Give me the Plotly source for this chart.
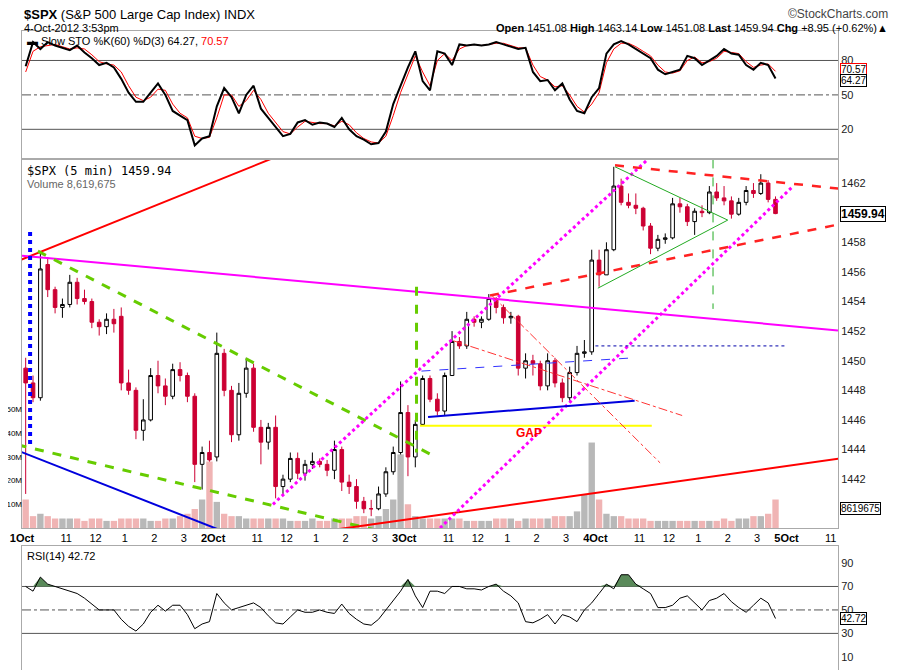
import numpy as np
import plotly.graph_objects as go

# 15-min candles rebuilt from the 5-min chart, 1-Oct .. 4-Oct 2012
opens = [1449.5,1448.5,1447.5,1456.5,1454.8,1453.6,1453.8,1455.3,1454.2,1454.0,1452.6,1452.3,1452.8,1453.0,1448.5,1448.0,1445.3,1446.0,1449.0,1448.3,1447.6,1449.4,1449.0,1447.6,1443.0,1443.8,
         1443.5,1450.5,1448.0,1445.0,1447.8,1449.5,1445.5,1444.5,1445.5,1441.5,1442.0,1443.4,1442.4,1443.0,1443.2,1443.0,1442.6,1444.0,1441.8,1441.5,1440.5,1440.0,1440.0,1441.0,1442.5,1443.8,
         1446.5,1443.5,1445.7,1448.8,1447.4,1446.6,1449.0,1451.3,1451.0,1452.8,1452.6,1452.8,1454.2,1453.6,1452.9,1453.0,1449.5,1450.0,1449.8,1448.3,1450.0,1448.5,1447.5,1449.2,1450.5,1450.6,
         1456.8,1455.8,1457.5,1461.8,1460.7,1460.5,1460.3,1459.1,1457.6,1458.2,1458.3,1460.6,1460.4,1459.4,1460.1,1460.0,1461.4,1461.0,1460.8,1459.9,1460.7,1461.5,1461.3,1462.0,1460.9]
highs = [1450.2,1449.0,1457.3,1457.0,1455.0,1454.2,1455.8,1455.6,1454.8,1454.2,1452.8,1453.2,1453.5,1453.6,1449.4,1448.2,1447.4,1449.5,1450.0,1448.8,1449.8,1449.9,1449.2,1447.8,1444.2,1444.6,
         1451.9,1450.8,1448.3,1448.5,1450.2,1449.8,1446.0,1445.8,1446.3,1442.3,1443.8,1443.8,1443.3,1443.8,1443.4,1443.3,1444.6,1444.2,1442.3,1442.0,1440.8,1440.6,1441.5,1442.8,1444.2,1448.6,
         1447.0,1446.0,1449.0,1449.0,1447.8,1449.2,1452.0,1451.6,1453.3,1453.0,1453.0,1454.5,1454.3,1453.8,1453.3,1453.1,1450.5,1450.4,1450.0,1450.5,1450.2,1448.8,1449.6,1451.0,1451.4,1457.5,
         1457.5,1458.0,1463.1,1462.3,1461.3,1461.3,1460.4,1459.3,1458.5,1458.6,1461.0,1461.0,1460.6,1460.3,1460.5,1461.8,1462.0,1461.8,1461.1,1461.0,1461.8,1462.0,1462.6,1462.2,1461.1]
lows = [1441.0,1447.2,1447.3,1454.3,1453.2,1452.9,1453.6,1453.8,1453.8,1452.2,1451.7,1451.8,1451.9,1448.0,1447.7,1444.7,1444.6,1445.9,1447.8,1447.0,1447.4,1448.6,1447.2,1441.8,1441.3,1442.5,
        1443.2,1447.6,1444.5,1444.6,1447.5,1445.2,1443.0,1444.0,1440.7,1441.0,1441.8,1442.0,1441.9,1442.7,1442.8,1442.2,1442.0,1441.2,1441.0,1440.0,1439.7,1439.5,1439.9,1440.8,1442.3,1443.5,
        1442.2,1442.8,1445.6,1447.2,1446.3,1446.3,1449.0,1450.8,1450.8,1452.3,1452.2,1452.7,1453.2,1452.5,1452.5,1449.0,1448.8,1449.0,1448.0,1448.0,1448.2,1447.2,1447.3,1449.0,1450.2,1450.4,
        1455.0,1455.8,1457.4,1460.5,1460.3,1459.9,1458.8,1457.2,1457.4,1457.9,1458.2,1460.0,1459.1,1458.5,1459.7,1459.9,1460.8,1460.5,1459.6,1459.8,1460.5,1461.0,1461.2,1460.7,1459.9]
closes = [1448.5,1447.5,1456.2,1454.8,1453.6,1453.8,1455.3,1454.2,1454.0,1452.6,1452.3,1452.8,1452.5,1448.5,1448.0,1445.3,1446.0,1449.0,1448.3,1447.6,1449.4,1449.0,1447.6,1443.0,1443.8,1443.3,
          1450.5,1448.0,1445.0,1447.8,1449.5,1445.5,1444.5,1445.5,1441.5,1442.0,1443.4,1442.4,1443.0,1443.2,1443.0,1442.6,1444.0,1441.8,1441.5,1440.5,1440.0,1440.0,1441.0,1442.5,1443.8,1446.5,
          1443.5,1445.7,1448.8,1447.4,1446.6,1449.0,1451.3,1451.0,1452.8,1452.6,1452.8,1454.2,1453.6,1452.9,1453.0,1449.5,1450.0,1449.8,1448.3,1450.0,1448.5,1447.5,1449.2,1450.5,1450.6,1456.8,
          1455.8,1457.5,1461.8,1460.7,1460.5,1460.3,1459.1,1457.6,1458.2,1458.3,1460.6,1460.4,1459.4,1460.1,1460.0,1461.4,1461.0,1460.8,1459.9,1460.7,1461.5,1461.3,1462.0,1460.9,1459.94]
volume = [12,5,6,5,4,4,4,4,3,4,4,3,3,4,4,4,4,3,3,4,4,5,6,8,12,28,
          11,6,5,5,4,4,4,4,4,4,3,3,3,4,3,3,4,4,4,5,5,4,5,8,12,31,
          10,5,4,4,4,4,4,4,3,3,3,3,4,4,4,3,4,4,4,4,5,5,5,7,14,36,
          12,6,5,5,4,4,4,3,3,3,3,3,3,3,3,3,3,4,3,4,4,5,5,6,12]

sto_k = [75,96,90,96,93,91,89,93,87,82,76,78,74,64,52,44,44,52,60,50,36,32,28,6,12,14,
         40,56,48,34,50,58,38,30,22,14,16,26,28,24,26,25,22,30,20,14,11,7,8,18,42,58,
         74,88,62,54,88,86,76,94,93,94,93,94,96,94,92,90,91,70,62,63,54,60,46,36,34,48,
         56,86,94,97,94,90,86,82,72,68,70,72,84,82,76,80,84,90,86,85,76,72,78,76,64.27]
sto_d = [70,88,92,93,94,92,90,91,90,85,79,77,76,70,58,48,45,48,55,54,42,34,30,14,12,13,
         30,50,50,40,45,54,46,34,26,18,16,22,27,26,25,25,23,27,24,17,12,9,8,14,32,52,
         68,84,70,58,80,86,80,90,93,94,93,94,95,95,93,91,91,76,66,63,57,58,50,40,35,42,
         52,78,90,95,95,92,88,84,76,70,69,71,80,83,78,79,82,88,87,86,79,74,76,77,70.57]
rsi = [70,66,78,72,70,68,66,64,60,55,50,50,50,42,36,32,38,48,54,49,54,54,46,34,38,40,
       64,56,50,52,54,56,52,45,39,38,44,50,48,48,50,48,47,55,47,42,38,37,42,50,58,66,
       76,62,52,66,66,64,70,70,68,68,67,70,72,66,62,56,40,39,42,46,38,46,44,40,50,56,
       64,72,68,80,80,72,68,64,52,52,54,60,62,56,50,58,60,64,57,52,48,54,60,56,42.72]

# hand-drawn studies: (bar0, price0, bar1, price1, colour, width, dash)
trendlines = [
    (-9, 1456.25, 117.6, 1464.7, "#ff0000", 2, "solid"),
    (0, 1457.1, 333, 1452.05, "#ff00ff", 2, "solid"),
    (6.5, 1457.4, 166.5, 1443.7, "#66cc00", 3, "dash"),
    (-9, 1444.6, 146, 1438.5, "#66cc00", 3, "dash"),
    (-9, 1444.4, 109.4, 1436.7, "#0000dd", 2, "solid"),
    (3.3, 1458.7, 3.3, 1444.1, "#0000ff", 4, "dot"),
    (-9, 1435.4, 351, 1443.8, "#ff0000", 2, "solid"),
    (161, 1455.0, 161, 1443.8, "#66cc00", 3, "dash"),
    (170.6, 1438.7, 314.7, 1461.8, "#ff00ff", 3, "dot"),
    (102.4, 1440.3, 279, 1467.2, "#ff00ff", 3, "dot"),
    (162.4, 1445.6, 257, 1445.6, "#ffff00", 2, "solid"),
    (165.7, 1446.2, 250, 1447.3, "#0000dd", 2, "solid"),
    (163, 1449.3, 250, 1450.2, "#3333ff", 1, "dash"),
    (234, 1451.0, 312, 1451.0, "#0000aa", 1, "dot"),
    (176, 1451.35, 269.4, 1446.3, "#ff3333", 1, "dashdot"),
    (191.8, 1454.4, 260.4, 1443.1, "#ff3333", 1, "dashdot"),
    (242, 1463.2, 335, 1461.6, "#ff2222", 2.5, "dash"),
    (191, 1454.4, 333, 1459.2, "#ff2222", 2.5, "dash"),
    (242, 1463.1, 288, 1459.5, "#22aa22", 1, "solid"),
    (235, 1454.9, 288, 1459.5, "#22aa22", 1, "solid"),
    (282, 1463.6, 282, 1453.5, "#22aa22", 1, "dash"),
]

tick_bars = [0, 18, 30, 42, 54, 66, 78, 96, 108, 120, 132, 144, 156, 174, 186, 198, 210, 222,
             234, 252, 264, 276, 288, 300, 312, 330]
tick_text = ["<b>1Oct</b>", "11", "12", "1", "2", "3", "<b>2Oct</b>", "11", "12", "1", "2", "3",
             "<b>3Oct</b>", "11", "12", "1", "2", "3", "<b>4Oct</b>", "11", "12", "1", "2", "3",
             "<b>5Oct</b>", "11"]

bars = np.arange(len(closes)) * 3 + 1.5
sto_x = np.arange(len(sto_k)) * 3 + 1.5
rsi_x = np.arange(len(rsi)) * 3 + 1.5
vol_col = ["#b8b8b8" if c >= o else "#f0b4b4" for o, c in zip(opens, closes)]

fig = go.Figure()
fig.add_trace(go.Bar(x=bars, y=volume, marker_color=vol_col, marker_line_width=0,
                     width=2.6, xaxis="x", yaxis="y4"))
fig.add_trace(go.Candlestick(x=bars, open=opens, high=highs, low=lows, close=closes,
                             increasing=dict(line=dict(color="black", width=1), fillcolor="white"),
                             decreasing=dict(line=dict(color="#cc0033", width=1), fillcolor="#cc0033"),
                             whiskerwidth=0, xaxis="x", yaxis="y"))
fig.add_trace(go.Scatter(x=sto_x, y=sto_d, mode="lines", line=dict(color="red", width=1),
                         xaxis="x2", yaxis="y2"))
fig.add_trace(go.Scatter(x=sto_x, y=sto_k, mode="lines", line=dict(color="black", width=2),
                         xaxis="x2", yaxis="y2"))
# RSI overbought shading
fig.add_trace(go.Scatter(x=rsi_x, y=[70] * len(rsi), mode="lines", line=dict(width=0),
                         xaxis="x3", yaxis="y3"))
fig.add_trace(go.Scatter(x=rsi_x, y=np.maximum(rsi, 70), mode="lines", line=dict(width=0),
                         fill="tonexty", fillcolor="#5a8a5a", xaxis="x3", yaxis="y3"))
fig.add_trace(go.Scatter(x=rsi_x, y=rsi, mode="lines", line=dict(color="black", width=1),
                         xaxis="x3", yaxis="y3"))

shapes = []
for b0, p0, b1, p1, col, w, dash in trendlines:
    shapes.append(dict(type="line", xref="x", yref="y", x0=b0, y0=p0, x1=b1, y1=p1,
                       line=dict(color=col, width=w, dash=dash)))
for lvl, dash in [(80, "solid"), (50, "dashdot"), (20, "solid")]:
    shapes.append(dict(type="line", xref="x2 domain", yref="y2", x0=0, x1=1, y0=lvl, y1=lvl,
                       line=dict(color="#555", width=1, dash=dash), layer="below"))
for lvl, dash in [(70, "solid"), (50, "dashdot"), (30, "solid")]:
    shapes.append(dict(type="line", xref="x3 domain", yref="y3", x0=0, x1=1, y0=lvl, y1=lvl,
                       line=dict(color="#555", width=1, dash=dash), layer="below"))

# the page puts the figure 8px in from the window corner
H = 670
xd = [14 / 905, 830 / 905]
ax = dict(showgrid=False, zeroline=False, showline=True, mirror=True, linecolor="#aaa",
          range=[0, 333], fixedrange=True, automargin=False)
yax = dict(showgrid=False, zeroline=False, showline=True, mirror=True, linecolor="#aaa",
           side="right", ticks="", tickfont=dict(size=11, color="#222"), automargin=False)

fig.update_layout(
    width=905, height=H, margin=dict(l=0, r=0, t=0, b=0, autoexpand=False),
    paper_bgcolor="white", plot_bgcolor="white", showlegend=False,
    font=dict(family="Liberation Sans, Arial", size=11, color="black"),
    xaxis=dict(ax, domain=xd, anchor="y", tickvals=tick_bars, ticktext=tick_text,
               rangeslider=dict(visible=False), tickfont=dict(size=11)),
    xaxis2=dict(ax, domain=xd, anchor="y2", showticklabels=False),
    xaxis3=dict(ax, domain=xd, anchor="y3", showticklabels=False),
    yaxis=dict(yax, domain=[1 - 520 / H, 1 - 152 / H], range=[1438.7, 1463.56],
               tickvals=list(range(1442, 1463, 2))),
    yaxis4=dict(domain=[1 - 520 / H, 1 - 152 / H], overlaying="y", range=[0, 155], side="left",
                anchor="free", position=xd[0], tickvals=[10, 20, 30, 40, 50],
                ticktext=["10M", "20M", "30M", "40M", "50M"], showgrid=False, automargin=False,
                zeroline=False, showline=False, ticks="", ticklabelstandoff=0,
                tickfont=dict(size=8, family="Liberation Sans Narrow, Liberation Sans")),
    yaxis2=dict(yax, domain=[1 - 150 / H, 1 - 23 / H], range=[-5, 105.7], tickvals=[20, 50, 80]),
    yaxis3=dict(yax, domain=[8 / H, 1 - 538 / H], range=[-1.2, 104.5], tickvals=[10, 30, 50, 70, 90]),
    shapes=shapes,
)

ann = [
    dict(x=0.0155, y=1.005, text="<b>$SPX</b> (S&P 500 Large Cap Index) INDX", font=dict(size=13)),
    dict(x=0.0155, y=0.982, text="4-Oct-2012 3:53pm", font=dict(size=11)),
    dict(x=0.019, y=0.963, text="▬ Slow STO %K(60) %D(3) 64.27, <span style='color:red'>70.57</span>",
         font=dict(size=11)),
    dict(x=0.019, y=0.77, text="$SPX (5 min) 1459.94", font=dict(size=12, family="DejaVu Sans Mono")),
    dict(x=0.019, y=0.75, text="Volume 8,619,675", font=dict(size=11, color="#666")),
    dict(x=0.019, y=0.194, text="RSI(14) 42.72", font=dict(size=11)),
]
for a in ann:
    fig.add_annotation(xref="paper", yref="paper", xanchor="left", yanchor="top",
                       showarrow=False, **a)
fig.add_annotation(xref="paper", yref="paper", x=0.975, y=1.005, xanchor="right", yanchor="top",
                   showarrow=False, text="©StockCharts.com", font=dict(size=12, color="#444"))
fig.add_annotation(xref="paper", yref="paper", x=0.975, y=0.982, xanchor="right", yanchor="top",
                   showarrow=False, font=dict(size=11),
                   text="<b>Open</b> 1451.08 <b>High</b> 1463.14 <b>Low</b> 1451.08 <b>Last</b> 1459.94 <b>Chg</b> +8.95 (+0.62%)▲")
boxes = [("y2", 72.5, "70.57", "red", False), ("y2", 62.5, "64.27", "black", False),
         ("y", 1459.94, "1459.94", "black", True), ("y", 1440.05, "8619675", "black", False),
         ("y3", 42.72, "42.72", "black", False)]
for yr, yv, txt, bc, bold in boxes:
    fig.add_annotation(xref="paper", yref=yr, x=0.919, y=yv, xanchor="left", showarrow=False,
                       text=f"<b>{txt}</b>" if bold else txt, bordercolor=bc, borderwidth=1,
                       borderpad=0, bgcolor="white", font=dict(size=12 if bold else 10))
fig.add_annotation(xref="x", yref="y", x=207, y=1445.1, text="<b>GAP</b>", showarrow=False,
                   font=dict(color="red", size=12))

fig.write_html("out.html")
